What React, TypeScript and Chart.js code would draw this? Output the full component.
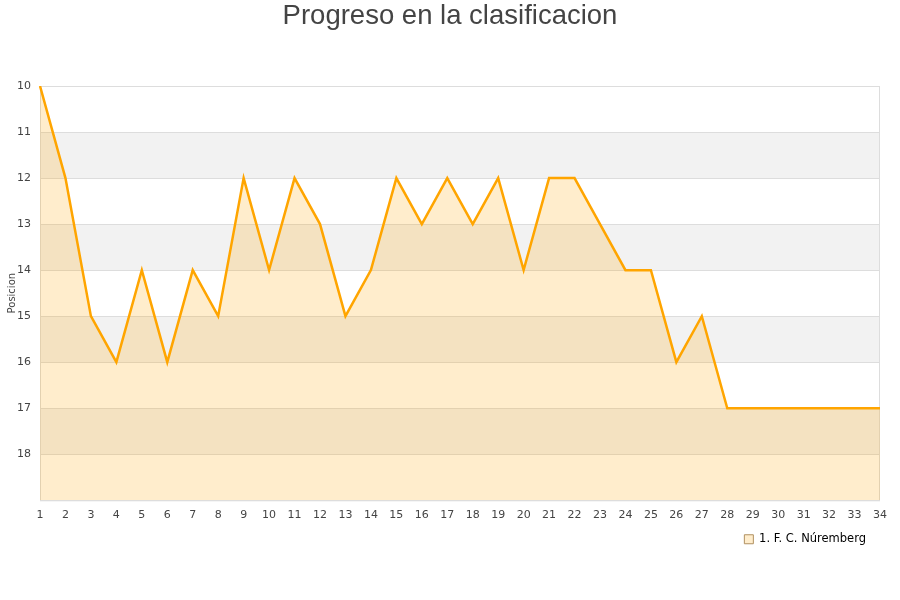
import React, { useEffect, useRef } from "react";
import { Chart, registerables } from "chart.js";

Chart.register(...registerables);

const jornadas: string[] = Array.from({ length: 34 }, (_, i) => String(i + 1));
const posiciones: number[] = [
  10, 12, 15, 16, 14, 16, 14, 15, 12, 14, 12, 13, 15, 14, 12, 13, 12, 13, 12, 14,
  12, 12, 13, 14, 14, 16, 15, 17, 17, 17, 17, 17, 17, 17,
];
const seriesName = "1. F. C. Núremberg";
const titleText = "Progreso en la clasificacion";
const yTitle = "Posicion";
const yMin = 10;
const yMax = 19;

const bandsPlugin = {
  id: "bands",
  afterLayout(chart: any) {
    if (chart.titleBlock) {
      chart.titleBlock.left += 10;
      chart.titleBlock.right += 10;
    }
    if (chart.legend) {
      chart.legend.left -= 2;
      chart.legend.right -= 2;
    }
  },
  beforeDraw(chart: any) {
    const { ctx, chartArea } = chart;
    const y = chart.scales.y;
    ctx.save();
    ctx.fillStyle = "#f2f2f2";
    for (let v = yMin + 1; v < yMax; v += 2) {
      const p1 = y.getPixelForValue(v);
      const p2 = y.getPixelForValue(v + 1);
      ctx.fillRect(chartArea.left, Math.min(p1, p2), chartArea.right - chartArea.left, Math.abs(p2 - p1));
    }
    ctx.restore();
  },
  beforeDatasetsDraw(chart: any) {
    const { ctx, chartArea } = chart;
    ctx.save();
    ctx.strokeStyle = "#dddddd";
    ctx.lineWidth = 1;
    ctx.strokeRect(chartArea.left + 0.5, chartArea.top + 0.5, chartArea.right - chartArea.left - 1, chartArea.bottom - chartArea.top);
    ctx.restore();
  },
};

export default function App() {
  const ref = useRef<HTMLCanvasElement>(null);
  useEffect(() => {
    if (!ref.current) return;
    const chart = new Chart(ref.current, {
      type: "line",
      data: {
        labels: jornadas,
        datasets: [
          {
            label: seriesName,
            data: posiciones,
            borderColor: "#ffa500",
            backgroundColor: "rgba(255,165,0,0.2)",
            borderWidth: 2.5,
            pointRadius: 0,
            tension: 0,
            fill: { value: yMax },
          },
        ],
      },
      options: {
        animation: false,
        responsive: false,
        maintainAspectRatio: false,
        layout: { padding: { left: 0, right: 20, top: 0, bottom: 45 } },
        plugins: {
          title: {
            display: true,
            text: titleText,
            color: "#444444",
            font: { family: "'Liberation Sans', Arial, sans-serif", size: 27.5, weight: "normal" },
            padding: { top: 0, bottom: 53 },
          },
          legend: {
            position: "bottom",
            align: "end",
            labels: {
              boxWidth: 9,
              boxHeight: 9,
              color: "#111111",
              font: { family: "'DejaVu Sans', sans-serif", size: 11.5 },
              padding: 12,
              generateLabels: () => [
                {
                  text: seriesName,
                  fillStyle: "#ffedcc",
                  strokeStyle: "#b09060",
                  lineWidth: 1,
                  datasetIndex: 0,
                },
              ],
            },
          },
          tooltip: { enabled: false },
        },
        scales: {
          x: {
            offset: false,
            grid: { display: false },
            border: { display: false },
            ticks: {
              color: "#444444",
              font: { family: "'DejaVu Sans', sans-serif", size: 11 },
              maxRotation: 0,
              autoSkip: false,
              padding: 0,
            },
          },
          y: {
            reverse: true,
            min: yMin,
            max: yMax,
            grid: { color: "#dddddd", drawTicks: false },
            border: { display: false },
            afterFit: (s: any) => {
              s.width = 40;
            },
            ticks: {
              stepSize: 1,
              color: "#444444",
              font: { family: "'DejaVu Sans', sans-serif", size: 11 },
              padding: 9,
              callback: (v: any) => (v >= yMax ? "" : String(v)),
            },
            title: {
              display: true,
              text: yTitle,
              color: "#444444",
              font: { family: "'DejaVu Sans', sans-serif", size: 10 },
              padding: { top: 6, bottom: 0 },
            },
          },
        },
      },
      plugins: [bandsPlugin],
    });
    return () => chart.destroy();
  }, []);
  return (
    <div style={{ position: "fixed", left: 0, top: 0, width: 900, height: 600, background: "#fff" }}>
      <canvas ref={ref} width={900} height={600} />
    </div>
  );
}
